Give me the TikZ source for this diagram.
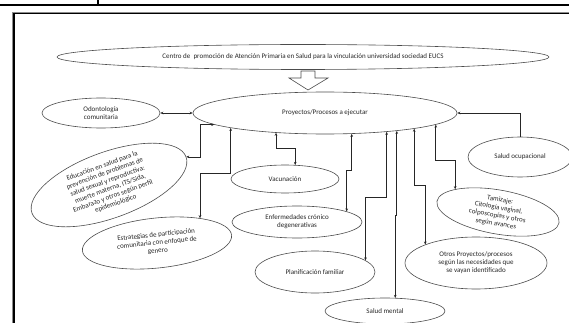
\documentclass[tikz,border=0pt]{standalone}
\usepackage{fontspec}
\setmainfont{Carlito}
\usetikzlibrary{shapes.geometric, arrows.meta}

\begin{document}
\begin{tikzpicture}[
  x=1pt, y=-1pt,
  font=\fontsize{7}{8}\selectfont,
  marco/.style={draw=black, line width=1.5pt},
  sombra/.style={draw=black!45, line width=2.4pt},
  elipse/.style={ellipse, draw=black!70, line width=0.6pt, inner sep=0pt, align=center, text=black!85},
  flecha/.style={draw=black!70, line width=0.6pt, fill=white},
  conector/.style={draw=black!85, line width=0.7pt, {Stealth[length=3pt,width=2.6pt]}-{Stealth[length=3pt,width=2.6pt]}},
  haciaproy/.style={draw=black!85, line width=0.7pt, -{Stealth[length=3pt,width=2.6pt]}}
]
\useasboundingbox (0,0) rectangle (569,323);
\clip (0,0) rectangle (569,323);

% Marco
\draw[marco] (0,5) -- (569,5);
\draw[marco] (98,0) -- (98,5);
\draw[sombra] (13,323) -- (13,13) -- (569,13);
\draw[marco] (14,323) -- (14,13.5) -- (569,13.5);

% Elipses
\node[elipse, minimum width=492, minimum height=25] (centro) at (303,57)
  {Centro de\ \ promoción de Atención Primaria en Salud para la vinculación universidad sociedad EUCS};
\node[elipse, minimum width=264, minimum height=42] (proy) at (325,113) {Proyectos/Procesos a ejecutar};
\node[elipse, minimum width=118, minimum height=30] (odo) at (101,113) {Odontología\\comunitaria};
\node[elipse, minimum width=164, minimum height=66, rotate=20] (edu) at (109,185)
  {Educación en salud para la\\prevención de problemas de\\salud sexual y reproductiva:\\muerte materna, ITS/Sida,\\Embarazo y otros según perfil\\epidemiológico};
\node[elipse, minimum width=150, minimum height=50, rotate=6] (estr) at (157,243)
  {Estrategias de participación\\comunitaria con enfoque de\\genero};
\node[elipse, minimum width=108, minimum height=28] (vac) at (285,179) {Vacunación};
\node[elipse, minimum width=130, minimum height=32] (enf) at (297,222) {Enfermedades crónico\\degenerativas};
\node[elipse, minimum width=120, minimum height=42] (plan) at (315,272) {Planificación familiar};
\node[elipse, minimum width=120, minimum height=26] (mental) at (385,311) {Salud mental};
\node[elipse, minimum width=142, minimum height=52] (otros) at (476,263)
  {Otros Proyectos/procesos\\según las necesidades que\\se vayan identificado};
\node[elipse, minimum width=124, minimum height=44, rotate=-10] (tam) at (498,212)
  {Tamizaje:\\Citología vaginal,\\colposcopías y otros\\según avances};
\node[elipse, minimum width=104, minimum height=40] (ocu) at (520,157) {Salud ocupacional};

% Flecha de bloque
\draw[flecha] (301,71) -- (315,71) -- (315,78) -- (328,78) -- (308,90) -- (289,78) -- (301,78) -- cycle;

% Conectores
\draw[conector] (odo.east) -- (proy.west);
\draw[conector] (edu.east) -- ++(14,0) |- (proy.186.6);
\draw[conector] (proy.189.3) -- ++(0,45) -| (estr.24);
\draw[conector] (proy.202.7) -- ++(0,16) -| (vac.54);
\draw[conector] (proy.322.7) -- ++(0,36) -| (enf.12.7);
\draw[conector] (proy.343.4) -- ++(0,65.5) -| (plan.13.1);
\draw[conector] (proy.346.5) -- ++(0,84.5) -| (mental.52);
\draw[conector] (proy.350.9) -- ++(0,57) -| (otros.160.5);
\draw[conector] (proy.354) -- ++(0,35.4) -| (tam.162.8);
\draw[haciaproy] (ocu.north) |- (proy.east);

\end{tikzpicture}
\end{document}
